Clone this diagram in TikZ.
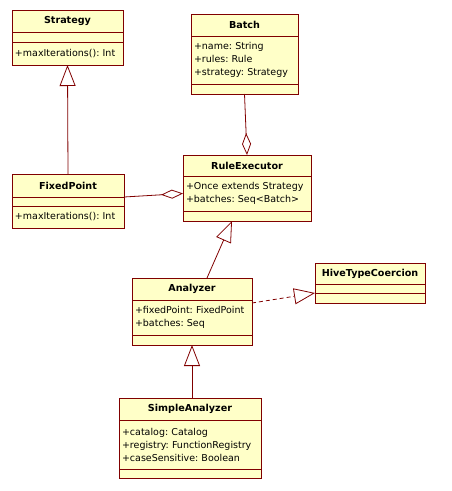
\documentclass[tikz,border=0pt]{standalone}
\usepackage{fontspec}
\setmainfont{DejaVu Sans}
\usetikzlibrary{positioning,arrows.meta}
\definecolor{umlline}{HTML}{800000}
\definecolor{umlfill}{HTML}{FFFFC8}
\frenchspacing
\tikzset{
  umlbox/.style={draw=umlline,fill=umlfill,line width=0.8pt,inner sep=0pt,outer sep=0pt,
    font=\fontsize{9.5}{13}\selectfont},
  umlhead/.style={umlbox,anchor=north west,font=\fontsize{9.6}{13}\selectfont\bfseries},
  umlbody/.style={umlbox,inner xsep=3pt,align=left,below=0pt of #1},
  gen/.style={draw=umlline,line width=0.8pt,-{Triangle[open,length=21pt,width=16pt]}},
  agg/.style={draw=umlline,line width=0.8pt,-{Diamond[open,length=22pt,width=9pt]}},
  real/.style={gen,dash pattern=on 4pt off 3pt}
}
\begin{document}
\begin{tikzpicture}[x=1pt,y=-1pt]
\useasboundingbox (0,0) rectangle (451,491);

% Strategy
\node[umlhead,minimum width=111pt,minimum height=22pt] (strategyHead) at (12,10) {Strategy};
\node[umlbody=strategyHead,text width=105pt,minimum height=10pt] (strategyAttr) {};
\node[umlbody=strategyAttr,text width=105pt,minimum height=23pt] (strategyOps) {+maxIterations(): Int};

% Batch
\node[umlhead,minimum width=107pt,minimum height=22pt] (batchHead) at (191,14) {Batch};
\node[umlbody=batchHead,text width=101pt,minimum height=48pt] (batchAttr) {+name: String\\+rules: Rule\\+strategy: Strategy};
\node[umlbody=batchAttr,text width=101pt,minimum height=10pt] (batchOps) {};

% FixedPoint
\node[umlhead,minimum width=112pt,minimum height=23pt] (fixedHead) at (12,174) {FixedPoint};
\node[umlbody=fixedHead,text width=106pt,minimum height=9pt] (fixedAttr) {};
\node[umlbody=fixedAttr,text width=106pt,minimum height=22pt] (fixedOps) {+maxIterations(): Int};

% RuleExecutor
\node[umlhead,minimum width=128pt,minimum height=21pt] (ruleHead) at (183,155) {RuleExecutor};
\node[umlbody=ruleHead,text width=122pt,minimum height=35pt] (ruleAttr) {+Once extends Strategy\\+batches: Seq<Batch>};
\node[umlbody=ruleAttr,text width=122pt,minimum height=10pt] (ruleOps) {};

% HiveTypeCoercion
\node[umlhead,minimum width=110pt,minimum height=21pt] (hiveHead) at (315,263) {HiveTypeCoercion};
\node[umlbody=hiveHead,text width=104pt,minimum height=9pt] (hiveAttr) {};
\node[umlbody=hiveAttr,text width=104pt,minimum height=10pt] (hiveOps) {};

% Analyzer
\node[umlhead,minimum width=120pt,minimum height=22pt] (analyzerHead) at (132,278) {Analyzer};
\node[umlbody=analyzerHead,text width=114pt,minimum height=35pt] (analyzerAttr) {+fixedPoint: FixedPoint\\+batches: Seq};
\node[umlbody=analyzerAttr,text width=114pt,minimum height=10pt] (analyzerOps) {};

% SimpleAnalyzer
\node[umlhead,minimum width=142pt,minimum height=22pt] (simpleHead) at (119,398) {SimpleAnalyzer};
\node[umlbody=simpleHead,text width=136pt,minimum height=49pt] (simpleAttr) {+catalog: Catalog\\+registry: FunctionRegistry\\+caseSensitive: Boolean};
\node[umlbody=simpleAttr,text width=136pt,minimum height=9pt] (simpleOps) {};

% relations
\draw[gen] (fixedHead.north) -- (strategyOps.south);
\draw[agg] (batchOps.south) -- (ruleHead.north);
\draw[agg] (fixedHead.south east) -- (ruleAttr.west);
\draw[gen] ([xshift=15pt]analyzerHead.north) -- ([xshift=-15pt]ruleOps.south);
\draw[real] ([yshift=-3pt]analyzerAttr.north east) -- (hiveAttr.south west);
\draw[gen] ([xshift=2pt]simpleHead.north) -- (analyzerOps.south);
\end{tikzpicture}
\end{document}
